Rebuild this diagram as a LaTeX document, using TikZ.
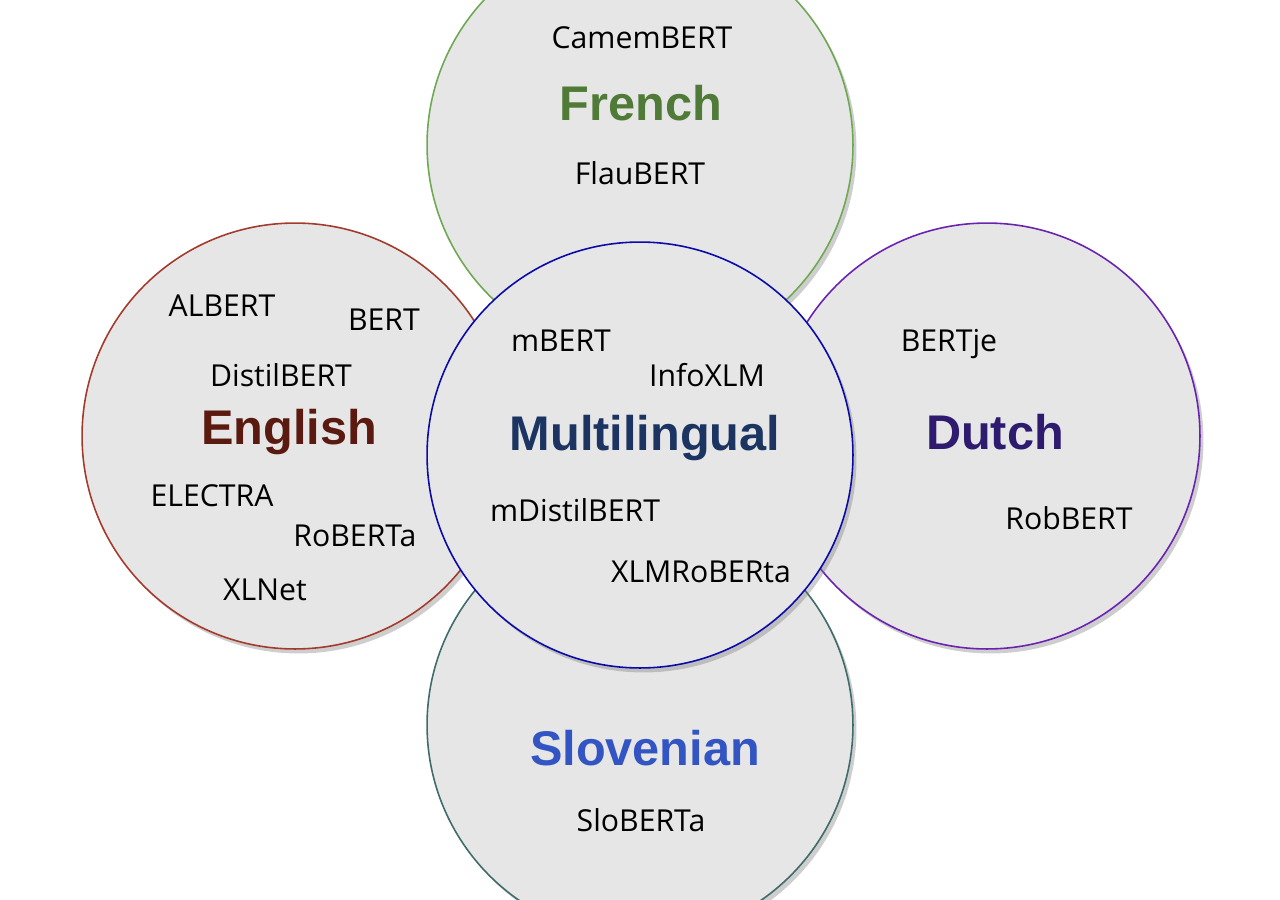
\documentclass[tikz,border=0pt]{standalone}
\usepackage{fontspec}
\setmainfont{Open Sans}
\newfontfamily\titelfont{Liberation Sans}
\usetikzlibrary{shadows}
\definecolor{engrand}{HTML}{A33B2C}
\definecolor{engtekst}{HTML}{5A1A10}
\definecolor{frrand}{HTML}{6FA852}
\definecolor{frtekst}{HTML}{4F7A37}
\definecolor{nlrand}{HTML}{6A22B0}
\definecolor{nltekst}{HTML}{2E1A6E}
\definecolor{slrand}{HTML}{3F6B6B}
\definecolor{sltekst}{HTML}{3355C4}
\definecolor{mlrand}{HTML}{0A0AA8}
\definecolor{mltekst}{HTML}{1C3461}
\definecolor{fyld}{HTML}{E6E6E6}
\tikzset{
    sprog/.style={
           circle,
           draw=#1, line width=0.9pt,
           fill=fyld,
           minimum size=8.52cm,
           inner sep=0pt,
           drop shadow={shadow xshift=0.07cm, shadow yshift=-0.09cm,
                        fill=black!55, opacity=0.35}},
    titel/.style={
           text=#1,
           font=\titelfont\bfseries\fontsize{27.7pt}{33pt}\selectfont},
    model/.style={
           text=black,
           font=\fontsize{17.2pt}{20pt}\selectfont}
}
\begin{document}
\begin{tikzpicture}[x=0.02cm, y=-0.02cm]
        \clip (0,0) rectangle (1280,899);
        \useasboundingbox (0,0) rectangle (1280,899);
        % language circles
        \node[sprog=frrand] (fr) at (640,145) {};
        \node[sprog=engrand] (en) at (295,436) {};
        \node[sprog=nlrand] (nl) at (987,436) {};
        \node[sprog=slrand] (sl) at (640,725) {};
        \node[sprog=mlrand] (ml) at (640,455) {};
        % French
        \node[model] (camembert) at (642,38) {CamemBERT};
        \node[titel=frtekst] (frtitel) at (641,103) {French};
        \node[model] (flaubert) at (640,173) {FlauBERT};
        % English
        \node[model] (albert) at (222,306) {ALBERT};
        \node[model] (bert) at (384,320) {BERT};
        \node[model] (distil) at (281,375) {DistilBERT};
        \node[titel=engtekst] (entitel) at (289,432) {English};
        \node[model] (electra) at (212,496) {ELECTRA};
        \node[model] (roberta) at (355,536) {RoBERTa};
        \node[model] (xlnet) at (265,590) {XLNet};
        % Multilingual
        \node[model] (mbert) at (561,341) {mBERT};
        \node[model] (infoxlm) at (707,375) {InfoXLM};
        \node[titel=mltekst] (mltitel) at (645,438) {Multilingual};
        \node[model] (mdistil) at (575,510) {mDistilBERT};
        \node[model] (xlmr) at (701,572) {XLMRoBERta};
        % Dutch
        \node[model] (bertje) at (949,344) {BERTje};
        \node[titel=nltekst] (nltitel) at (995,432) {Dutch};
        \node[model] (robbert) at (1069,518) {RobBERT};
        % Slovenian
        \node[titel=sltekst] (sltitel) at (645,748) {Slovenian};
        \node[model] (sloberta) at (641,820) {SloBERTa};
    \end{tikzpicture}
\end{document}
